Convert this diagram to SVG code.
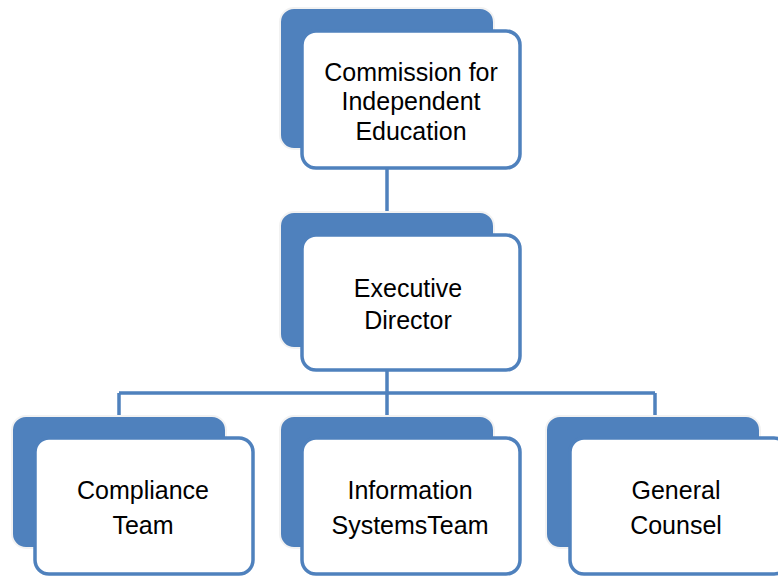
<svg xmlns="http://www.w3.org/2000/svg" width="778" height="576" viewBox="0 0 778 576">
<style>
.back{fill:#4F81BD;stroke:#F2F2F2;stroke-width:2}
.front{fill:#FFFFFF;stroke:#4F81BD;stroke-width:3.5}
.conn{fill:none;stroke:#4F81BD;stroke-width:3.5}
text{font-family:"Liberation Sans",Arial,sans-serif;font-size:25px;fill:#000;text-anchor:middle}
</style>
<rect width="778" height="576" fill="#FFFFFF"/>
<g id="connectors">
<path class="conn" d="M387 168 V212"/>
<path class="conn" d="M387 370 V393 M119 393 H655 M119 393 V416 M387 393 V416 M655 393 V416"/>
</g>
<g id="n-commission">
<rect class="back" x="280" y="8" width="214" height="141" rx="14"/>
<rect class="front" x="302" y="31" width="218" height="137" rx="14"/>
<text x="411" y="81">Commission for</text>
<text x="411" y="110">Independent</text>
<text x="411" y="140">Education</text>
</g>
<g id="n-executive">
<rect class="back" x="280" y="212" width="214" height="136" rx="14"/>
<rect class="front" x="302" y="235" width="218" height="135" rx="14"/>
<text x="408" y="297">Executive</text>
<text x="408" y="329">Director</text>
</g>
<g id="n-compliance">
<rect class="back" x="12" y="416" width="214" height="132" rx="14"/>
<rect class="front" x="35" y="438" width="218" height="136" rx="14"/>
<text x="143" y="499">Compliance</text>
<text x="143" y="534">Team</text>
</g>
<g id="n-infosys">
<rect class="back" x="280" y="416" width="214" height="132" rx="14"/>
<rect class="front" x="302" y="438" width="218" height="136" rx="14"/>
<text x="410" y="499">Information</text>
<text x="410" y="534">SystemsTeam</text>
</g>
<g id="n-counsel">
<rect class="back" x="546" y="416" width="214" height="132" rx="14"/>
<rect class="front" x="570" y="438" width="218" height="136" rx="14"/>
<text x="676" y="499">General</text>
<text x="676" y="534">Counsel</text>
</g>
</svg>
